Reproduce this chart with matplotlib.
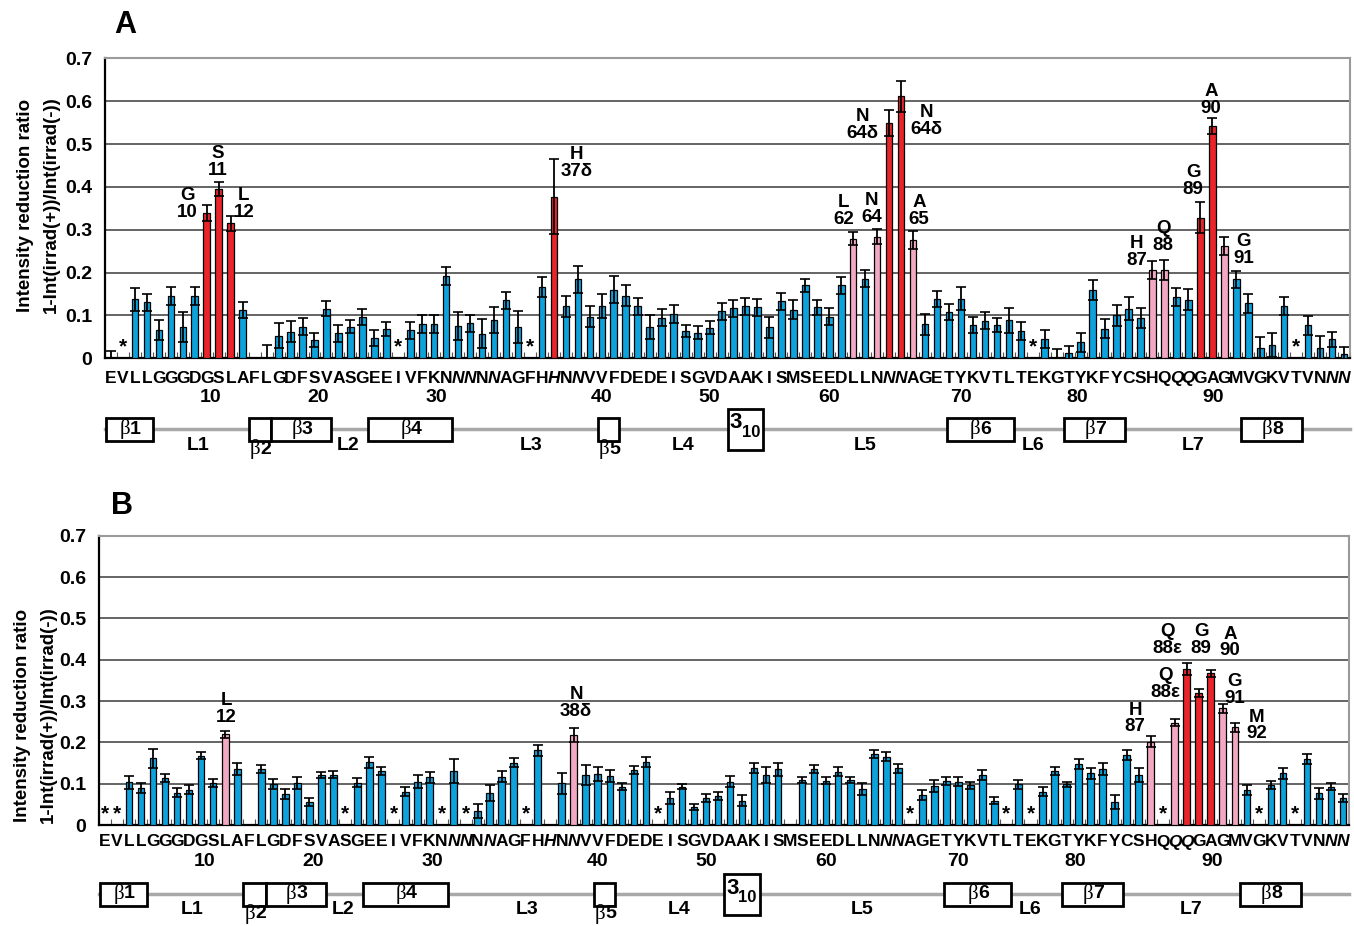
import numpy as np
import matplotlib
matplotlib.use("Agg")
import matplotlib.pyplot as plt
from matplotlib import transforms
from matplotlib.patches import Rectangle

plt.rcParams['font.family'] = ['Liberation Sans', 'DejaVu Sans']

# one slot per observed amide / side-chain NH
sequence = list("EVLLGGGDGSLAFLGDFSVASGEEIVFKNNNNNAGFHHNNVVFDEDEI"
                "SGVDAAKISMSEEDLLNNNAGETYKVTLTEKGTYKFYCSHQQQGAGMVGKVTVNNN")
side_chain_slots = [29, 30, 32, 37, 39, 65, 66, 89, 90, 102, 103]
residue_ticks = [8.3, 17.3, 27.2, 41, 50, 60, 71, 80.7, 92.1]
residue_numbers = ["10", "20", "30", "40", "50", "60", "70", "80", "90"]

# panel A
ratio_a = [0.0, None, .138, .131, .066, .145, .073, .146, .339, .395,
           .315, .113, None, 0.0, .053, .062, .074, .043, .116, .058,
           .074, .097, .047, .068, None, .065, .080, .080, .191, .075,
           .082, .057, .089, .135, .073, None, .166, .377, .121, .184,
           .097, .121, .160, .146, .121, .072, .095, .104, .064, .060,
           .071, .110, .117, .121, .119, .072, .133, .113, .170, .119,
           .097, .170, .279, .186, .284, .549, .611, .276, .079, .138,
           .108, .139, .077, .088, .077, .089, .064, None, .044, 0.0,
           .012, .037, .159, .069, .100, .116, .094, .206, .206, .143,
           .137, .328, .542, .262, .184, .128, .025, .030, .121, None,
           .077, .024, .044, .011]
error_a = [.017, 0, .027, .020, .024, .021, .036, .021, .019, .016,
           .018, .018, 0, .031, .029, .024, .020, .017, .017, .019,
           .016, .019, .019, .016, 0, .019, .021, .021, .021, .032,
           .020, .034, .030, .020, .037, 0, .023, .088, .025, .031,
           .025, .028, .031, .025, .019, .028, .020, .021, .014, .015,
           .015, .020, .020, .019, .020, .024, .020, .022, .016, .018,
           .020, .019, .015, .020, .018, .030, .037, .021, .024, .019,
           .018, .027, .019, .019, .016, .029, .021, 0, .021, .021,
           .016, .023, .024, .022, .025, .026, .024, .022, .024, .020,
           .025, .036, .018, .020, .019, .022, .024, .028, .021, 0,
           .022, .027, .017, .016]
red_a = [8, 9, 10, 37, 65, 66, 91, 92]
pink_a = [62, 64, 67, 87, 88, 93]
stars_a = [1, 24, 35, 77, 99]
labels_a = [("G\n10", 6.4, .360), ("S\n11", 8.9, .458), ("L\n12", 11.1, .360),
            ("H\n37δ", 38.9, .456), ("L\n62", 61.2, .344), ("N\n64", 63.55, .348),
            ("N\n64δ", 62.8, .544), ("N\n64δ", 68.15, .554), ("A\n65", 67.5, .344),
            ("H\n87", 85.7, .248), ("Q\n88", 87.9, .283), ("G\n89", 90.4, .414),
            ("A\n90", 91.9, .603), ("G\n91", 94.6, .253)]

# panel B
ratio_b = [None, None, .103, .089, .161, .113, .078, .085, .168, .101,
           .219, .135, None, .135, .099, .075, .101, .056, .121, .122,
           None, .102, .152, .131, None, .081, .105, .115, None, .131,
           None, .034, .078, .117, .151, None, .181, None, .101, .218,
           .121, .123, .119, .093, .133, .152, None, .065, .093, .044,
           .065, .070, .105, .059, .137, .121, .135, None, .109, .135,
           .107, .129, .109, .087, .172, .165, .137, None, .073, .094,
           .106, .105, .096, .121, .059, None, .098, None, .081, .131,
           .098, .147, .125, .135, .056, .169, .121, .202, None, .248,
           .377, .319, .367, .282, .236, .085, None, .097, .125, None,
           .160, .077, .093, .065]
error_b = [0, 0, .016, .012, .022, .010, .011, .011, .009, .010,
           .008, .014, 0, .010, .012, .012, .014, .009, .008, .009,
           0, .011, .013, .010, 0, .012, .015, .014, 0, .029,
           0, .018, .019, .014, .010, 0, .013, 0, .026, .016,
           .024, .017, .014, .009, .010, .012, 0, .015, .006, .008,
           .009, .009, .014, .014, .012, .019, .016, 0, .008, .009,
           .008, .011, .008, .014, .009, .011, .011, 0, .012, .015,
           .009, .010, .009, .012, .008, 0, .011, 0, .012, .010,
           .007, .012, .014, .014, .017, .012, .018, .014, 0, .009,
           .014, .010, .008, .011, .010, .012, 0, .010, .014, 0,
           .013, .013, .008, .010]
red_b = [90, 91, 92]
pink_b = [10, 39, 87, 89, 93, 94]
stars_b = [0, 1, 20, 24, 28, 30, 35, 46, 67, 75, 77, 88, 96, 99]
labels_b = [("L\n12", 10.1, .281), ("N\n38δ", 39.2, .295),
            ("Q\n88ε", 88.4, .448), ("G\n89", 91.2, .448), ("A\n90", 93.6, .441),
            ("Q\n88ε", 88.2, .341), ("H\n87", 85.7, .257), ("G\n91", 94.0, .327),
            ("M\n92", 95.8, .240)]

# secondary structure spans in slot units
strands = [("1", -0.4, 3.5), ("2", 11.5, 13.4), ("3", 13.4, 18.4), ("4", 21.5, 28.5),
           ("5", 40.7, 42.4), ("6", 69.8, 75.4), ("7", 79.6, 84.7), ("8", 94.4, 99.5)]
helix_310 = (51.5, 54.5)
loops = [("L1", 7.25), ("L2", 19.8), ("L3", 35.1), ("L4", 47.8), ("L5", 63.0),
         ("L6", 77.0), ("L7", 90.4)]

W, H = 1354, 926
BLUE, RED, PINK = '#0DA2DC', '#E8252B', '#F2A7C3'

fig = plt.figure(figsize=(W / 100, H / 100), dpi=100)


def fy(y):
    return 1 - y / H


def draw_panel(rect, ratio, error, reds, pinks, stars, labels, letter, letter_xy,
               ylab_x, ylab_y, seq_y, num_y, ss_y, loop_y):
    left, top, right, bottom = rect
    ax = fig.add_axes([left / W, fy(bottom), (right - left) / W, (bottom - top) / H])
    n = len(sequence)
    x = np.arange(n)
    vals = np.array([np.nan if v is None else v for v in ratio])
    cols = [RED if i in reds else PINK if i in pinks else BLUE for i in range(n)]
    ax.bar(x, np.nan_to_num(vals), width=0.55, color=cols, edgecolor='black',
           linewidth=0.9, zorder=3)
    ax.errorbar(x, vals, yerr=error, fmt='none', ecolor='black', elinewidth=1.3,
                capsize=3.6, capthick=1.2, zorder=4)
    for i in stars:
        ax.text(i, 0.004, "*", ha='center', va='bottom', fontsize=15,
                fontweight='bold', zorder=5)
    for txt, lx, ly in labels:
        ax.text(lx, ly, txt, ha='center', va='center', fontsize=13.5,
                fontweight='bold', linespacing=0.95, zorder=6)

    ax.set_xlim(-0.5, n - 0.5)
    ax.set_ylim(0, 0.7)
    ax.set_yticks(np.arange(0, 0.71, 0.1))
    ax.set_yticklabels(["0"] + ["%.1f" % v for v in np.arange(0.1, 0.71, 0.1)],
                       fontsize=14, fontweight='bold')
    ax.tick_params(axis='y', length=0, pad=9)
    ax.set_xticks(np.arange(-0.5, n, 1.0))
    ax.set_xticklabels([])
    ax.tick_params(axis='x', direction='in', length=4, width=0.8, color='#555555')
    ax.yaxis.grid(True, color='#3a3a3a', linewidth=1.1)
    ax.set_axisbelow(True)
    for side in ('left', 'bottom'):
        ax.spines[side].set_linewidth(1.6)
        ax.spines[side].set_color('black')
    for side in ('top', 'right'):
        ax.spines[side].set_color('#9a9a9a')
        ax.spines[side].set_linewidth(1.5)

    blend = transforms.blended_transform_factory(ax.transData, fig.transFigure)
    for i, ch in enumerate(sequence):
        ax.text(i, fy(seq_y), ch, transform=blend, ha='center', va='center',
                fontsize=12.5, fontweight='bold',
                style='italic' if i in side_chain_slots else 'normal')
    for pos, num in zip(residue_ticks, residue_numbers):
        ax.text(pos, fy(num_y), num, transform=blend, ha='center', va='center',
                fontsize=14, fontweight='bold')

    # secondary structure track
    ax.plot([-0.5, n - 0.5], [fy(ss_y)] * 2, transform=blend, color='#a8a8a8',
            lw=2.5, clip_on=False, zorder=1)
    bh = 23 / H
    for name, x0, x1 in strands:
        ax.add_patch(Rectangle((x0, fy(ss_y) - bh / 2), x1 - x0, bh, transform=blend,
                               facecolor='white', edgecolor='black', lw=2,
                               clip_on=False, zorder=2))
        if name in ('2', '5'):
            cx, cy = (x0 + x1) / 2, fy(loop_y + 4)
        else:
            cx, cy = (x0 + x1) / 2, fy(ss_y)
        ax.text(cx + 0.05, cy, "β", transform=blend, ha='right', va='center',
                fontsize=15, family='Liberation Serif', zorder=3)
        ax.text(cx + 0.05, cy, name, transform=blend, ha='left', va='center',
                fontsize=14, fontweight='bold', zorder=3)
    hh = 41 / H
    ax.add_patch(Rectangle((helix_310[0], fy(ss_y) - hh / 2), helix_310[1] - helix_310[0],
                           hh, transform=blend, facecolor='white', edgecolor='black',
                           lw=2, clip_on=False, zorder=2))
    hx = (helix_310[0] + helix_310[1]) / 2
    ax.text(hx - 0.3, fy(ss_y - 6), "3", transform=blend, ha='right', va='center',
            fontsize=16, fontweight='bold', zorder=3)
    ax.text(hx - 0.3, fy(ss_y + 3), "10", transform=blend, ha='left', va='center',
            fontsize=12, fontweight='bold', zorder=3)
    for name, lx in loops:
        ax.text(lx, fy(loop_y), name, transform=blend, ha='center', va='center',
                fontsize=14, fontweight='bold')

    fig.text(letter_xy[0] / W, fy(letter_xy[1]), letter, ha='center', va='center',
             fontsize=22, fontweight='bold')
    fig.text(ylab_x[0] / W, fy(ylab_y), "Intensity reduction ratio", rotation=90,
             ha='center', va='center', fontsize=13.5, fontweight='bold')
    fig.text(ylab_x[1] / W, fy(ylab_y), "1-Int(irrad(+))/Int(irrad(-))", rotation=90,
             ha='center', va='center', fontsize=13.5, fontweight='bold')
    return ax


draw_panel((105, 58.3, 1350, 358.3), ratio_a, error_a, red_a, pink_a, stars_a,
           labels_a, "A", (125, 25), (26, 51), 205, 378, 398, 429, 445)
draw_panel((99, 535.7, 1349, 825), ratio_b, error_b, red_b, pink_b, stars_b,
           labels_b, "B", (122, 506), (22.5, 48), 715, 842, 862, 894, 910)

fig.savefig("out.png", dpi=100, facecolor='white')
